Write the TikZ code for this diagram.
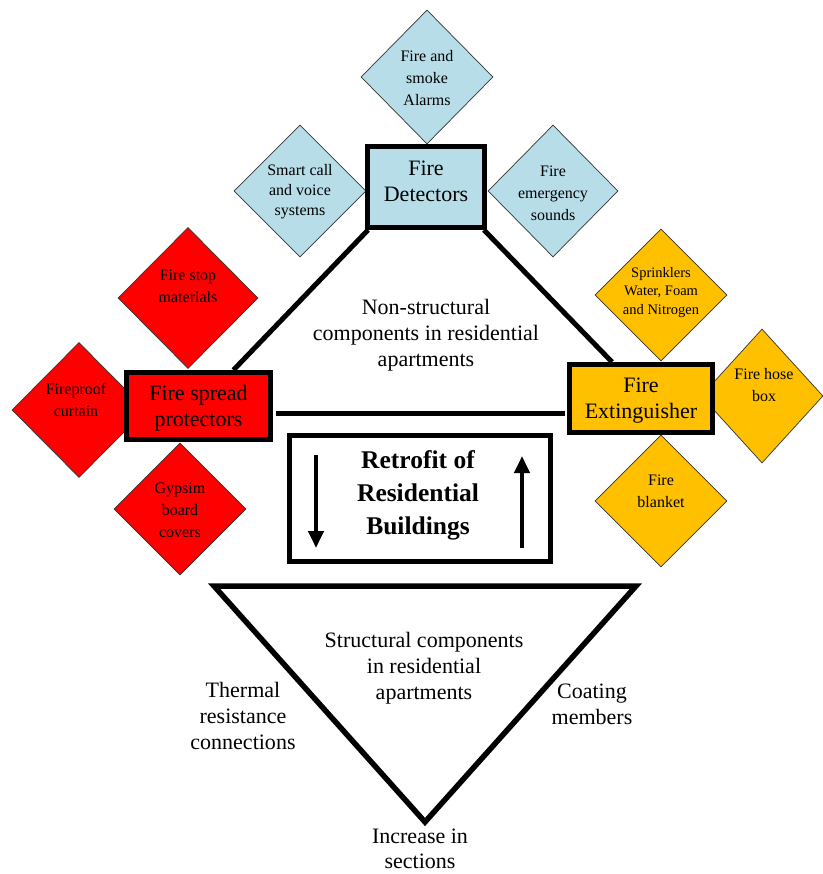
\documentclass[tikz,border=0pt]{standalone}
\usepackage{fontspec}
\setmainfont{Liberation Serif}
\usetikzlibrary{shapes.geometric,arrows.meta,calc}
\definecolor{lblue}{RGB}{183,221,232}
\definecolor{fgold}{RGB}{255,192,0}
\definecolor{fred}{RGB}{255,0,0}
\begin{document}
\begin{tikzpicture}[x=1pt,y=-1pt,
  diam/.style={shape=diamond, draw=black!80, line width=0.7pt, inner sep=0pt},
  dtext/.style={align=center, font=\fontsize{16}{22}\selectfont, inner sep=0pt},
  stext/.style={align=center, font=\fontsize{14.5}{18.5}\selectfont, inner sep=0pt},
  mainbox/.style={draw=black, line width=5pt, inner sep=0pt},
  conn/.style={line width=5pt},
  lbl/.style={align=center, font=\fontsize{22}{26}\selectfont, inner sep=0pt},
  retarrow/.style={line width=4pt, -{Triangle[width=15pt,length=17pt]}},
]
\path[use as bounding box] (0,0) rectangle (822,874);

% structural triangle
\draw[line width=5.5pt, line join=miter] (214,586) -- (636,586) -- (425,822) -- cycle;

% diamonds
\node[diam, fill=lblue, minimum width=132, minimum height=134] (dalarm) at (427,77) {};
\node[diam, fill=lblue, minimum width=132, minimum height=132] (dsmart) at (300,191) {};
\node[diam, fill=lblue, minimum width=130, minimum height=132] (demerg) at (553,191) {};
\node[diam, fill=fred, minimum width=140, minimum height=141] (dstop) at (188,298) {};
\node[diam, fill=fred, minimum width=134, minimum height=135] (dcurt) at (79,410) {};
\node[diam, fill=fred, minimum width=132, minimum height=132] (dgyps) at (180,509) {};
\node[diam, fill=fgold, minimum width=132, minimum height=132] (dsprk) at (661,295) {};
\node[diam, fill=fgold, minimum width=122, minimum height=134] (dhose) at (762,396) {};
\node[diam, fill=fgold, minimum width=132, minimum height=132] (dblnk) at (661,501) {};

% main boxes
\node[mainbox, fill=lblue, minimum width=117, minimum height=81] (det) at (426,187) {};
\node[mainbox, fill=fred, minimum width=144, minimum height=67] (spr) at (198.5,406) {};
\node[mainbox, fill=fgold, minimum width=143, minimum height=68] (ext) at (641,398.5) {};
\node[mainbox, fill=white, minimum width=261, minimum height=126] (ret) at (420,498.5) {};
\node[lbl] (tdet) at (426,181) {Fire\\Detectors};
\node[lbl] (tspr) at (198.5,408.5) {Fire spread\\protectors};
\node[lbl] (text) at (641,400.5) {Fire\\Extinguisher};

% connectors of the upper triangle
\draw[conn] ($(det.south west)+(3,0)$) -- ($(spr.north)+(35,0)$);
\draw[conn] ($(det.south east)+(-3,0)$) -- ($(ext.north)+(-29,0)$);
\draw[conn] ($(spr.east)+(2.5,7.2)$) -- ($(ext.west)+(-2.5,14.7)$);

% diamond texts
\node[dtext] (talarm) at (427,78) {Fire and\\smoke\\Alarms};
\node[dtext, font=\fontsize{16}{20}\selectfont] (tsmart) at (300,192) {Smart call\\and voice\\systems};
\node[dtext] (temerg) at (553,193.5) {Fire\\emergency\\sounds};
\node[dtext] (tstop) at (188,286) {Fire stop\\materials};
\node[dtext] (tcurt) at (76,399.5) {Fireproof\\curtain};
\node[dtext] (tgyps) at (180,510) {Gypsim\\board\\covers};
\node[stext] (tsprk) at (661,292.5) {Sprinklers\\Water, Foam\\and Nitrogen};
\node[dtext] (those) at (764,385.5) {Fire hose\\box};
\node[dtext] (tblnk) at (661,491.5) {Fire\\blanket};

% retrofit box content
\node[align=center, inner sep=0pt, font=\fontsize{25.5}{33}\selectfont\bfseries] (tret) at (418,495.5) {Retrofit of\\Residential\\Buildings};
\coordinate (adTop) at (316,455);
\coordinate (adBot) at (316,548);
\coordinate (auBot) at (522,548);
\coordinate (auTop) at (522,456);
\draw[retarrow] (adTop) -- (adBot);
\draw[retarrow] (auBot) -- (auTop);

% labels
\node[lbl] (tnon) at (426,335.5) {Non-structural\\components in residential\\apartments};
\node[lbl] (tstr) at (424,668) {Structural components\\in residential\\apartments};
\node[lbl] (tthm) at (243,716) {Thermal\\resistance\\connections};
\node[lbl] (tcoat) at (592,704.5) {Coating\\members};
\node[lbl, font=\fontsize{22}{24.5}\selectfont] (tinc) at (420,849) {Increase in\\sections};
\end{tikzpicture}
\end{document}
